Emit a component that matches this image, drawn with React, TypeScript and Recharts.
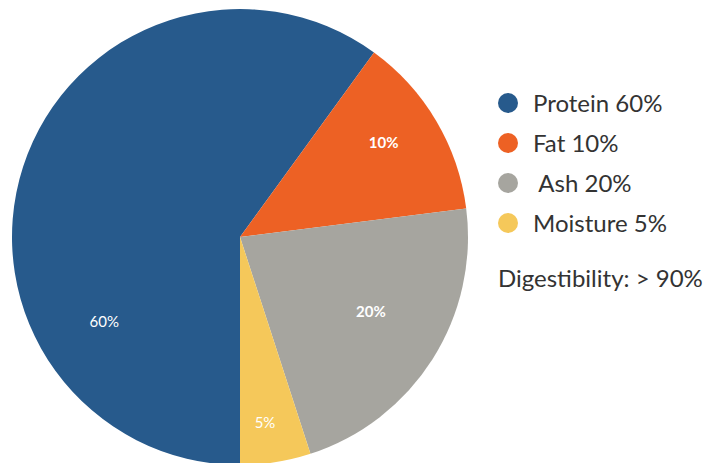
import React from 'react';
import { PieChart, Pie, Cell, Legend } from 'recharts';

const categories = ['Protein', 'Fat', 'Ash', 'Moisture'];
const sliceValues = [60, 13, 22, 5];
const labelTexts = ['60%', '10%', '20%', '5%'];
const legendTexts = ['Protein 60%', 'Fat 10%', ' Ash 20%', 'Moisture 5%'];
const noteText = 'Digestibility: > 90%';
const colors = ['#275a8c', '#ed6124', '#a6a59f', '#f5c85a'];

// label placement styling (angle shift in degrees, radius fraction, weight)
const labelStyle: Record<string, { shift: number; frac: number; weight: number }> = {
  Protein: { shift: 49.7, frac: 0.7, weight: 400 },
  Fat: { shift: 2.8, frac: 0.755, weight: 700 },
  Ash: { shift: 2.9, frac: 0.66, weight: 700 },
  Moisture: { shift: -1.3, frac: 0.82, weight: 400 },
};

const data = categories.map((name, i) => ({
  name,
  value: sliceValues[i],
  label: labelTexts[i],
  legend: legendTexts[i],
}));

const RAD = Math.PI / 180;

const renderLabel = (props: any) => {
  const { cx, cy, midAngle, outerRadius, payload, name } = props;
  const key = name ?? payload?.name;
  const st = labelStyle[key] || { shift: 0, frac: 0.7, weight: 400 };
  const a = (midAngle + st.shift) * RAD;
  const r = outerRadius * st.frac;
  const x = cx + r * Math.cos(a);
  const y = cy - r * Math.sin(a);
  return (
    <text
      x={x}
      y={y}
      fill="#ffffff"
      textAnchor="middle"
      dominantBaseline="central"
      fontFamily="Lato, sans-serif"
      fontSize={15}
      fontWeight={st.weight}
    >
      {payload?.label ?? props.label}
    </text>
  );
};

const LegendContent = () => (
  <div style={{ fontFamily: 'Lato, sans-serif', color: '#333333', fontSize: 24 }}>
    {data.map((d, i) => (
      <div key={d.name} style={{ display: 'flex', alignItems: 'center', height: 40 }}>
        <span
          style={{
            width: 20,
            height: 20,
            borderRadius: 10,
            background: colors[i],
            display: 'inline-block',
            marginRight: 15,
            flexShrink: 0,
          }}
        />
        <span style={{ whiteSpace: 'pre', lineHeight: '40px' }}>{d.legend}</span>
      </div>
    ))}
    <div style={{ marginTop: 15, lineHeight: '40px', whiteSpace: 'pre' }}>{noteText}</div>
  </div>
);

export default function App() {
  return (
    <div style={{ position: 'absolute', left: 0, top: 0, width: 703, height: 463, background: '#ffffff' }}>
      <PieChart width={703} height={463} margin={{ top: 0, right: 0, bottom: 0, left: 0 }}>
        <Pie
          data={data}
          dataKey="value"
          nameKey="name"
          cx={240}
          cy={237}
          outerRadius={228}
          startAngle={270}
          endAngle={-90}
          stroke="none"
          label={renderLabel}
          labelLine={false}
          isAnimationActive={false}
        >
          {data.map((d, i) => (
            <Cell key={d.name} fill={colors[i]} />
          ))}
        </Pie>
        <Legend
          content={<LegendContent />}
          layout="vertical"
          wrapperStyle={{ position: 'absolute', left: 498, top: 83, width: 205 }}
        />
      </PieChart>
    </div>
  );
}
